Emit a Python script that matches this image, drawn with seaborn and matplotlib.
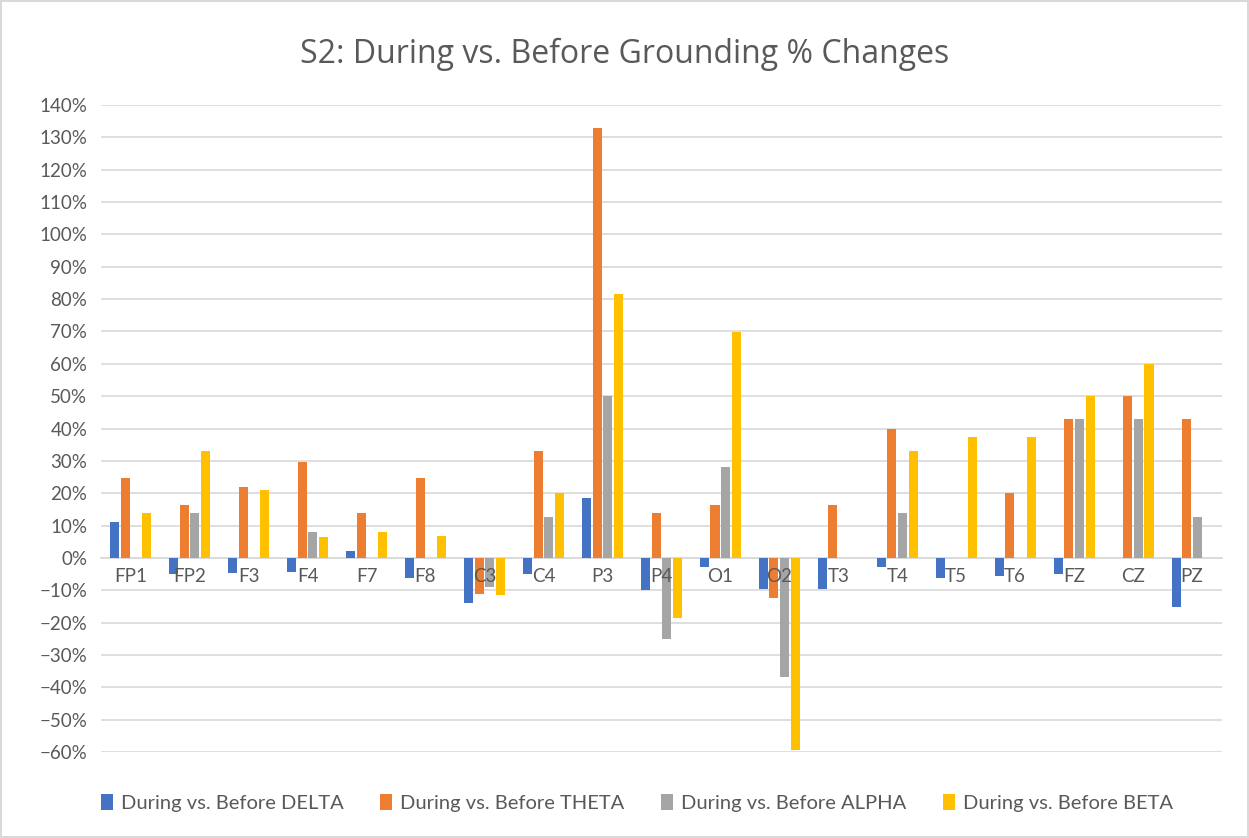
import pandas as pd
import seaborn as sns
import matplotlib.pyplot as plt
from matplotlib.ticker import PercentFormatter

# electrode sites along the x axis
channels = ["FP1", "FP2", "F3", "F4", "F7", "F8", "C3", "C4", "P3", "P4",
            "O1", "O2", "T3", "T4", "T5", "T6", "FZ", "CZ", "PZ"]

# % change per band
delta = [11, -5, -4.6, -4.5, 2, -6.3, -13.8, -5, 18.6, -9.9,
         -2.7, -9.7, -9.7, -2.7, -6.3, -5.5, -5, 0, -15.2]
theta = [24.7, 16.3, 21.9, 29.8, 14, 24.7, -11, 33, 133, 13.9,
         16.3, -12.5, 16.3, 39.8, 0, 20, 43, 50, 43]
alpha = [0, 14, 0, 8, 0, 0, -9, 12.5, 50, -25,
         28.2, -36.7, 0, 14, 0, 0, 43, 43, 12.5]
beta = [14, 33, 21, 6.5, 8, 6.9, -11.4, 20, 81.7, -18.5,
        69.8, -59.4, 0, 33, 37.3, 37.3, 50, 60, 0]

series_names = ["During vs. Before DELTA", "During vs. Before THETA",
                "During vs. Before ALPHA", "During vs. Before BETA"]
colors = ["#4472C4", "#ED7D31", "#A5A5A5", "#FFC000"]

rows = []
for name, vals in zip(series_names, [delta, theta, alpha, beta]):
    for ch, v in zip(channels, vals):
        rows.append({"channel": ch, "series": name, "value": v})
df = pd.DataFrame(rows)

sns.set_theme(style="whitegrid")
plt.rcParams["font.family"] = ["Lato", "DejaVu Sans"]

fig = plt.figure(figsize=(12.49, 8.38), dpi=100)
fig.patch.set_edgecolor("#D9D9D9")
fig.patch.set_linewidth(1.5)
ax = fig.add_axes([0.081, 0.1026, 0.897, 0.7721])

sns.barplot(data=df, x="channel", y="value", hue="series", palette=colors,
            saturation=1, width=0.72, gap=0.15, linewidth=0, ax=ax)

ax.set_ylim(-60, 140)
ax.set_yticks(range(-60, 141, 10))
ax.yaxis.set_major_formatter(PercentFormatter(decimals=0))
ax.set_xlim(-0.5, len(channels) - 0.5)
ax.grid(axis="y", color="#D9D9D9", linewidth=1.2)
ax.grid(axis="x", visible=False)
ax.set_axisbelow(True)
# category labels sit on top of the bars, like in Excel
ax.xaxis.set_zorder(5)

for s in ["top", "right", "left"]:
    ax.spines[s].set_visible(False)
ax.spines["bottom"].set_position(("data", 0))
ax.spines["bottom"].set_color("#D9D9D9")
ax.spines["bottom"].set_linewidth(1.2)
ax.spines["bottom"].set_zorder(0.6)
ax.tick_params(axis="x", length=0, pad=7, labelsize=13.5, labelcolor="#595959")
ax.tick_params(axis="y", length=0, pad=10, labelsize=13.5, labelcolor="#595959")
ax.set_xlabel("")
ax.set_ylabel("")

handles, labels = ax.get_legend_handles_labels()
ax.get_legend().remove()
fig.legend(handles, labels, loc="center", bbox_to_anchor=(0.51, 0.042), ncol=4,
           frameon=False, fontsize=14.5, labelcolor="#595959",
           handlelength=0.6, handleheight=0.9, handletextpad=0.4,
           columnspacing=1.8)

fig.suptitle("S2: During vs. Before Grounding % Changes", y=0.955,
             fontsize=23, color="#595959", family=["Open Sans", "DejaVu Sans"])

fig.savefig("out.png", dpi=100)
